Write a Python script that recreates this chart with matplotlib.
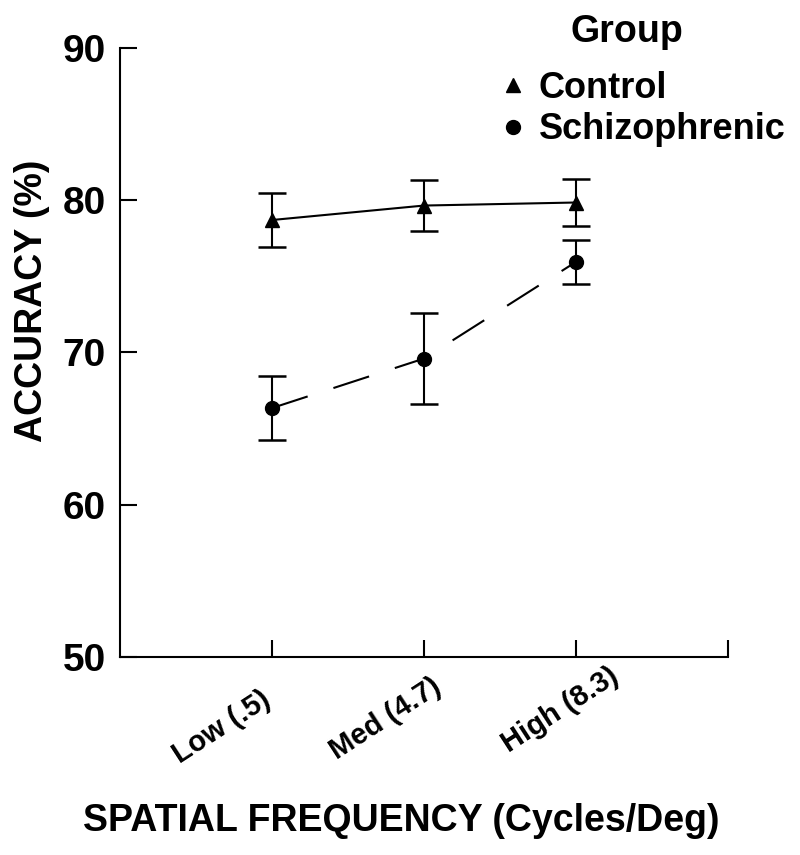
import matplotlib
matplotlib.use("Agg")
import matplotlib.pyplot as plt
import matplotlib.transforms as mtransforms
from matplotlib.lines import Line2D

categories = ["Low (.5)", "Med (4.7)", "High (8.3)"]
control_mean = [78.7, 79.65, 79.85]
control_err = [1.8, 1.65, 1.55]
schizo_mean = [66.35, 69.6, 75.95]
schizo_err = [2.1, 3.0, 1.45]
yticks = [50, 60, 70, 80, 90]

plt.rcParams['font.family'] = ['Liberation Sans', 'DejaVu Sans']
plt.rcParams['font.weight'] = 'bold'

fig = plt.figure(figsize=(8, 8.55), dpi=100)
ax = fig.add_axes([0.15, 0.2316, 0.76, 0.7123])

x = [1, 2, 3]
ax.errorbar(x, control_mean, yerr=control_err, color='black', lw=1.5,
            marker='^', ms=10, capsize=10, capthick=1.8, elinewidth=1.5)
ax.errorbar(x, schizo_mean, yerr=schizo_err, color='black', lw=1.5,
            marker='o', ms=10, capsize=10, capthick=1.8, elinewidth=1.5,
            dashes=(18, 13))

ax.set_xlim(0, 4)
ax.set_ylim(50, 90)
ax.set_yticks(yticks)
ax.set_xticks([1, 2, 3, 4])
ax.tick_params(axis='both', direction='in', length=12, width=1.5)
ax.tick_params(axis='x', pad=24)
ax.tick_params(axis='y', pad=10)
ax.set_xticklabels(categories + [""], rotation=33, ha='right', va='top',
                   rotation_mode='anchor', fontsize=21, fontweight='bold')
# small per-label shifts (in pixels) to match the reference placement
shifts = [(-12, 5), (7, 18), (32, 28)]
for lab, (dx, dy) in zip(ax.get_xticklabels(), shifts):
    lab.set_transform(lab.get_transform() +
                      mtransforms.ScaledTranslation(dx / 100, dy / 100, fig.dpi_scale_trans))
for lab in ax.get_yticklabels():
    lab.set_fontsize(28)
    lab.set_fontweight('bold')
for s in ['top', 'right']:
    ax.spines[s].set_visible(False)
for s in ['left', 'bottom']:
    ax.spines[s].set_linewidth(1.5)

ax.set_ylabel("ACCURACY (%)", fontsize=27, fontweight='bold', va='center')
ax.yaxis.set_label_coords(-0.144, 0.585)
ax.set_xlabel("SPATIAL FREQUENCY (Cycles/Deg)", fontsize=27, fontweight='bold', va='center')
ax.xaxis.set_label_coords(0.462, -0.27)

handles = [Line2D([], [], color='black', marker='^', ls='none', ms=10),
           Line2D([], [], color='black', marker='o', ls='none', ms=10)]
leg = fig.legend(handles, ["Control", "Schizophrenic"], loc='upper left',
                 bbox_to_anchor=(0.608, 0.938), frameon=False,
                 prop={'size': 26, 'weight': 'bold'}, handlelength=0.5,
                 handletextpad=0.45, labelspacing=0.17, borderpad=0)
fig.text(0.783, 0.962, "Group", fontsize=27, fontweight='bold', ha='center', va='center')

fig.savefig("out.png", dpi=100)
